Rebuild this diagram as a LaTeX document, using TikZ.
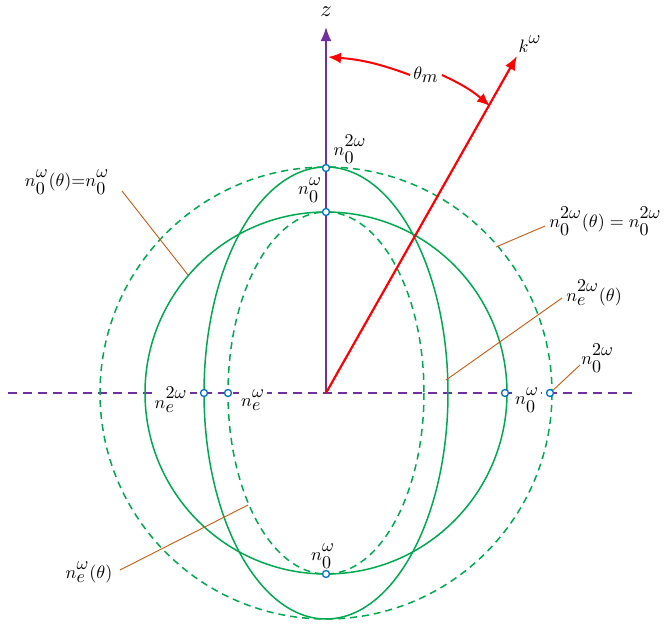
\documentclass[tikz,border=0pt]{standalone}
\usetikzlibrary{arrows.meta}
\definecolor{cgreen}{RGB}{0,168,80}
\definecolor{cpurple}{RGB}{112,48,160}
\definecolor{corange}{RGB}{200,90,20}
\definecolor{cblue}{RGB}{0,112,192}
\DeclareMathSizes{10}{10}{10}{7}
\newcommand\myup[1]{\raisebox{1.5pt}{$#1$}}
\begin{document}
\begin{tikzpicture}[x=1pt,y=-1pt,
  curve/.style={cgreen,line width=1.5pt},
  dcurve/.style={cgreen,line width=1.5pt,dash pattern=on 7pt off 5pt},
  leader/.style={corange,line width=0.9pt},
  pt/.style={circle,draw=cblue,fill=white,line width=1.3pt,minimum size=7pt,inner sep=0pt},
  lbl/.style={inner sep=0pt,scale=1.8},
  axlbl/.style={lbl,fill=white,inner sep=1.5pt}]
\useasboundingbox (0,0) rectangle (665,624);
\clip (0,0) rectangle (665,624);
\coordinate (O) at (326,393);
% horizontal axis
\coordinate (hl) at (8,393);
\coordinate (hr) at (632,393);
\draw[cpurple,line width=1.5pt,dash pattern=on 9pt off 6pt] (hl) -- (hr);
% curves
\draw[dcurve] (O) circle (226);
\draw[curve] (O) ellipse [x radius=122, y radius=226];
\draw[curve] (O) circle (181);
\draw[dcurve] (O) ellipse [x radius=98, y radius=181];
% z axis
\coordinate (ztip) at (326,27);
\draw[cpurple,line width=1.8pt,-{Latex[length=14pt,width=11pt]}] (O) -- (ztip);
\node[lbl,scale=1.25] (zl) at (326,12) {$z$};
% k vector
\coordinate (ktip) at (517,56);
\draw[red,line width=2.2pt,-{Latex[length=14pt,width=11pt]}] (O) -- (ktip);
\node[lbl] (kl) at (530,44) {$k^{\myup{\omega}}$};
% theta arc
\node[lbl] (th) at (426,75) {$\theta_m$};
\coordinate (a1) at (328,57);
\coordinate (a2) at (490,106);
\draw[red,line width=2pt,{Latex[length=13pt,width=11pt]}-] (a1) to[bend left=8] ([xshift=-3pt]th.west);
\draw[red,line width=2pt,-{Latex[length=13pt,width=11pt]}] ([xshift=3pt]th.east) to[bend left=8] (a2);
% point labels on the axis (white background hides the axis)
\node[axlbl] (l3) at (171,400) {$n_e^{\myup{2\omega}}$};
\node[axlbl] (l4) at (253,400) {$n_e^{\myup{\omega}}$};
\node[axlbl] (l5) at (527,400) {$n_0^{\myup{\omega}}$};
% points
\node[pt] (p1) at (326,168) {};
\node[pt] (p2) at (326,212) {};
\node[pt] (p3) at (204,393) {};
\node[pt] (p4) at (228,393) {};
\node[pt] (p5) at (505,393) {};
\node[pt] (p6) at (550,393) {};
\node[pt] (p7) at (326,574) {};
% other point labels
\node[lbl] (l1) at (350,149) {$n_0^{\myup{2\omega}}$};
\node[lbl] (l2) at (310,190) {$n_0^{\myup{\omega}}$};
\node[lbl] (l7) at (323,556) {$n_0^{\myup{\omega}}$};
% leader labels
\node[lbl,anchor=center] (t1) at (67,182) {$n_0^{\myup{\omega}}(\theta){=}n_0^{\myup{\omega}}$};
\node[lbl,anchor=west] (t2) at (549,221) {$n_0^{\myup{2\omega}}(\theta) = n_0^{\myup{2\omega}}$};
\node[lbl,anchor=west] (t3) at (566,293) {$n_e^{\myup{2\omega}}(\theta)$};
\node[lbl,anchor=west] (t4) at (581,358) {$n_0^{\myup{2\omega}}$};
\node[lbl] (t5) at (89,572) {$n_e^{\myup{\omega}}(\theta)$};
% leaders
\coordinate (e1) at (188,275);
\coordinate (s1) at (122,191);
\draw[leader] (s1) -- (e1);
\coordinate (e2) at (496,247);
\coordinate (s2) at (545,226);
\draw[leader] (s2) -- (e2);
\coordinate (e3) at (446,380);
\coordinate (s3) at (562,298);
\draw[leader] (s3) -- (e3);
\coordinate (s4) at (580,365);
\draw[leader] (s4) -- (p6);
\coordinate (e5) at (248,505);
\coordinate (s5) at (120,570);
\draw[leader] (s5) -- (e5);
\end{tikzpicture}
\end{document}
